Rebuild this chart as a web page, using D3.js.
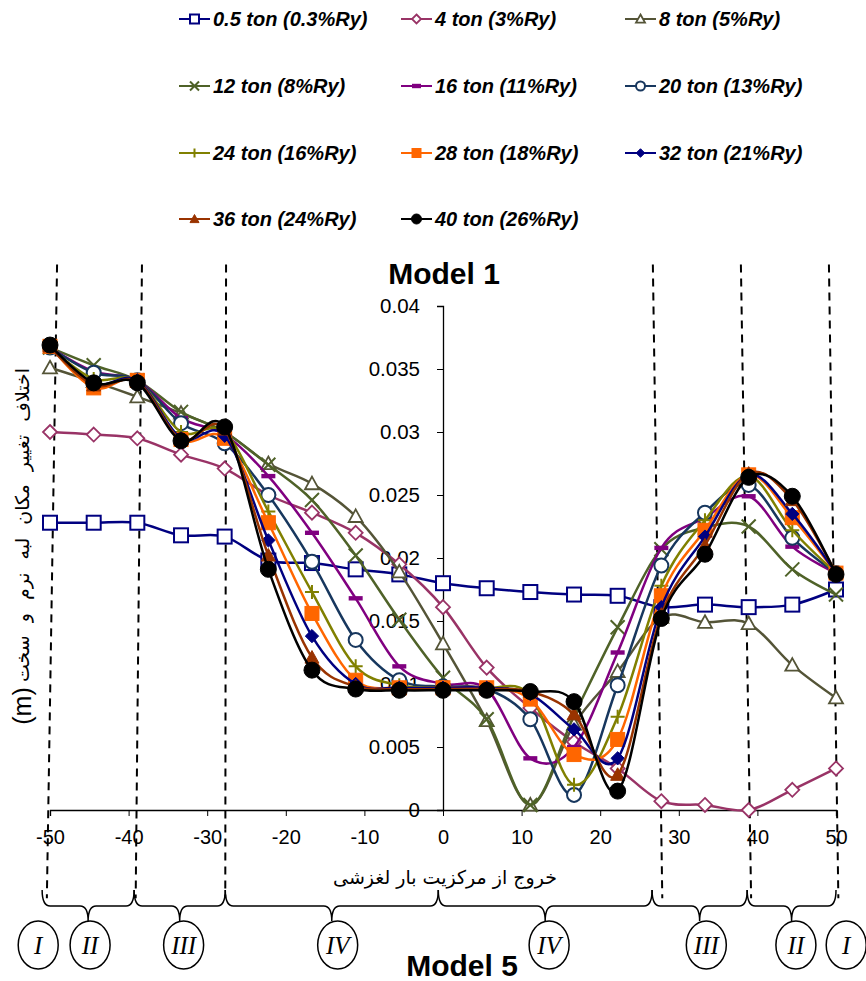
<!DOCTYPE html>
<html>
<head>
<meta charset="utf-8">
<script src="https://cdn.jsdelivr.net/npm/d3@7"></script>
<style>
  body { margin: 0; background: #fff; }
  svg text { font-family: Arial, "Liberation Sans", sans-serif; fill: #000; }
</style>
</head>
<body>
<div id="chart"></div>
<script>
// eccentricity positions (%)
const xValues = [-50, -44.44, -38.89, -33.33, -27.78, -22.22, -16.67, -11.11, -5.56, 0,
  5.56, 11.11, 16.67, 22.22, 27.78, 33.33, 38.89, 44.44, 50];

const seriesNames = ['0.5 ton (0.3%Ry)', '4 ton (3%Ry)', '8 ton (5%Ry)', '12 ton (8%Ry)',
  '16 ton (11%Ry)', '20 ton (13%Ry)', '24 ton (16%Ry)', '28 ton (18%Ry)',
  '32 ton (21%Ry)', '36 ton (24%Ry)', '40 ton (26%Ry)'];

const s05 = [0.0228, 0.0228, 0.0228, 0.0218, 0.0217, 0.0198, 0.0196, 0.0191, 0.0187, 0.0180,
  0.0176, 0.0173, 0.0171, 0.0170, 0.0161, 0.0163, 0.0161, 0.0163, 0.0175];
const s4 = [0.0300, 0.0298, 0.0295, 0.0282, 0.0271, 0.0250, 0.0236, 0.0220, 0.0195, 0.0161,
  0.0113, 0.0081, 0.0054, 0.0033, 0.0007, 0.0004, 0.0000, 0.0016, 0.0033];
const s8 = [0.0351, 0.0340, 0.0328, 0.0315, 0.0300, 0.0275, 0.0259, 0.0233, 0.0189, 0.0132,
  0.0071, 0.0004, 0.0068, 0.0110, 0.0153, 0.0149, 0.0148, 0.0115, 0.0089];
const s12 = [0.0367, 0.0353, 0.0341, 0.0316, 0.0300, 0.0274, 0.0246, 0.0202, 0.0151, 0.0105,
  0.0072, 0.0004, 0.0075, 0.0145, 0.0207, 0.0224, 0.0225, 0.0191, 0.0171];
const s16 = [0.0367, 0.0348, 0.0341, 0.0311, 0.0298, 0.0265, 0.0220, 0.0168, 0.0114, 0.0100,
  0.0096, 0.0041, 0.0050, 0.0125, 0.0208, 0.0232, 0.0249, 0.0209, 0.0188];
const s20 = [0.0367, 0.0347, 0.0341, 0.0307, 0.0291, 0.0250, 0.0197, 0.0135, 0.0103, 0.0098,
  0.0096, 0.0072, 0.0012, 0.0099, 0.0194, 0.0236, 0.0258, 0.0216, 0.0188];
const s24 = [0.0367, 0.0342, 0.0341, 0.0300, 0.0300, 0.0237, 0.0173, 0.0114, 0.0099, 0.0097,
  0.0097, 0.0091, 0.0020, 0.0074, 0.0178, 0.0230, 0.0265, 0.0222, 0.0188];
const s28 = [0.0368, 0.0335, 0.0341, 0.0294, 0.0295, 0.0228, 0.0156, 0.0103, 0.0097, 0.0097,
  0.0097, 0.0088, 0.0044, 0.0056, 0.0170, 0.0222, 0.0266, 0.0232, 0.0188];
const s32 = [0.0368, 0.0338, 0.0341, 0.0295, 0.0297, 0.0214, 0.0138, 0.0100, 0.0097, 0.0097,
  0.0097, 0.0092, 0.0064, 0.0041, 0.0161, 0.0217, 0.0266, 0.0235, 0.0188];
const s36 = [0.0368, 0.0337, 0.0340, 0.0294, 0.0302, 0.0202, 0.0121, 0.0098, 0.0096, 0.0096,
  0.0096, 0.0094, 0.0076, 0.0028, 0.0155, 0.0210, 0.0267, 0.0246, 0.0188];
const s40 = [0.0369, 0.0339, 0.0339, 0.0293, 0.0304, 0.0191, 0.0111, 0.0096, 0.0095, 0.0095,
  0.0095, 0.0094, 0.0086, 0.0015, 0.0152, 0.0203, 0.0264, 0.0249, 0.0187];

const seriesValues = [s05, s4, s8, s12, s16, s20, s24, s28, s32, s36, s40];
const seriesColors = ['#000080', '#993366', '#545437', '#4f6228', '#800080', '#17375e',
  '#808000', '#ff6600', '#000080', '#993300', '#000000'];
const seriesMarkers = ['square', 'diamond', 'triangle', 'cross', 'dash', 'circle',
  'plus', 'fsquare', 'fdiamond', 'ftriangle', 'fcircle'];

const xTicks = [-50, -40, -30, -20, -10, 0, 10, 20, 30, 40, 50];
const yTicks = [0, 0.005, 0.01, 0.015, 0.02, 0.025, 0.03, 0.035, 0.04];

// zone separators (dashed) : x at top / bottom of the line
const zoneLines = [[-49.1, -50.4], [-38.3, -39.1], [-27.6, -27.7], [26.7, 27.9], [37.9, 39.2], [49.1, 50.3]];
const braceEdges = [-51, -39.3, -27.7, -0.6, 26.6, 38.7, 50];
const zoneLabels = ['I', 'II', 'III', 'IV', 'IV', 'III', 'II', 'I'];
const zoneLabelX = [-51.5, -44.9, -33, -13.4, 13.5, 33.5, 44.9, 51.3];

const width = 866, height = 981;
const svg = d3.select('#chart').append('svg')
  .attr('width', width).attr('height', height);

const x = d3.scaleLinear().domain([-50, 50]).range([50, 836]);
const y = d3.scaleLinear().domain([0, 0.04]).range([810, 306]);

// axes
const xAxis = d3.axisBottom(x).tickValues(xTicks).tickSize(6).tickFormat(d3.format('d'));
const gx = svg.append('g').attr('transform', `translate(0,${y(0)})`).call(xAxis);
gx.select('.domain').attr('stroke', '#000').attr('stroke-width', 1.3);
gx.selectAll('.tick line').attr('stroke', '#000');
gx.selectAll('.tick text').attr('font-size', 20).attr('dy', '1.25em')
  .style('font-family', 'Arial, "Liberation Sans", sans-serif')
  .text(d => d < 0 ? '-' + Math.abs(d) : d);

const yAxis = d3.axisLeft(y).tickValues(yTicks).tickSize(6).tickFormat(d => d === 0 ? '0' : d3.format('')(+d.toFixed(3)));
const gy = svg.append('g').attr('transform', `translate(${x(0)},0)`).call(yAxis);
gy.select('.domain').attr('stroke', '#000').attr('stroke-width', 1.3);
gy.selectAll('.tick line').attr('stroke', '#000');
gy.selectAll('.tick text').attr('font-size', 20.5).attr('x', -23)
  .style('font-family', 'Arial, "Liberation Sans", sans-serif');

// dashed zone lines
svg.append('g').selectAll('line').data(zoneLines).join('line')
  .attr('x1', d => x(d[0])).attr('y1', y(0.0433))
  .attr('x2', d => x(d[1])).attr('y2', y(-0.007))
  .attr('stroke', '#000').attr('stroke-width', 2).attr('stroke-dasharray', '8,6');

// markers
function marker(g, type, color, s) {
  const h = s / 2;
  const open = ['square', 'diamond', 'triangle', 'circle'].includes(type);
  const fill = open ? '#fff' : color;
  if (type === 'square' || type === 'fsquare') {
    g.append('rect').attr('x', -h).attr('y', -h).attr('width', s).attr('height', s)
      .attr('fill', fill).attr('stroke', color).attr('stroke-width', open ? 2 : 1);
  } else if (type === 'diamond' || type === 'fdiamond') {
    const k = type === 'fdiamond' ? h * 0.95 : h;
    g.append('path').attr('d', `M0,${-k}L${k},0L0,${k}L${-k},0Z`)
      .attr('fill', fill).attr('stroke', color).attr('stroke-width', open ? 1.8 : 1);
  } else if (type === 'triangle' || type === 'ftriangle') {
    g.append('path').attr('d', `M0,${-h}L${h},${h * 0.8}L${-h},${h * 0.8}Z`)
      .attr('fill', fill).attr('stroke', color).attr('stroke-width', open ? 1.8 : 1);
  } else if (type === 'circle' || type === 'fcircle') {
    g.append('circle').attr('r', type === 'fcircle' ? h + 0.5 : h)
      .attr('fill', fill).attr('stroke', color).attr('stroke-width', open ? 2 : 1);
  } else if (type === 'cross') {
    g.append('path').attr('d', `M${-h},${-h}L${h},${h}M${-h},${h}L${h},${-h}`)
      .attr('stroke', color).attr('stroke-width', 2).attr('fill', 'none');
  } else if (type === 'plus') {
    g.append('path').attr('d', `M${-h},0L${h},0M0,${-h}L0,${h}`)
      .attr('stroke', color).attr('stroke-width', 2).attr('fill', 'none');
  } else if (type === 'dash') {
    g.append('rect').attr('x', -h).attr('y', -2.2).attr('width', s).attr('height', 4.4)
      .attr('fill', color);
  }
}

// series
const line = d3.line().x((d, i) => x(xValues[i])).y(d => y(d)).curve(d3.curveCardinal.tension(0));
seriesValues.forEach((vals, k) => {
  const g = svg.append('g').attr('class', 'series');
  g.append('path').datum(vals).attr('d', line)
    .attr('fill', 'none').attr('stroke', seriesColors[k]).attr('stroke-width', 2.5);
  vals.forEach((v, i) => {
    const m = g.append('g').attr('transform', `translate(${x(xValues[i])},${y(v)})`);
    marker(m, seriesMarkers[k], seriesColors[k], seriesMarkers[k] === 'fcircle' ? 15 : 14);
  });
});

// legend
const legCols = [179, 401, 625], legRows = [19, 86, 153, 219];
seriesNames.forEach((name, k) => {
  const lg = svg.append('g')
    .attr('transform', `translate(${legCols[k % 3]},${legRows[Math.floor(k / 3)]})`);
  lg.append('line').attr('x1', 0).attr('x2', 31).attr('stroke', seriesColors[k]).attr('stroke-width', 2);
  marker(lg.append('g').attr('transform', 'translate(15.5,0)'), seriesMarkers[k], seriesColors[k], 9);
  lg.append('text').attr('x', 34).attr('dy', '0.35em')
    .attr('font-size', 20).attr('font-weight', 'bold').attr('font-style', 'italic')
    .text(name);
});

// titles
svg.append('text').attr('x', 444).attr('y', 284).attr('text-anchor', 'middle')
  .attr('font-size', 30).attr('font-weight', 'bold').text('Model 1');
svg.append('text').attr('x', 462).attr('y', 976).attr('text-anchor', 'middle')
  .attr('font-size', 30).attr('font-weight', 'bold').text('Model 5');

svg.append('text').attr('x', 445).attr('y', 884).attr('text-anchor', 'middle')
  .attr('font-size', 19).style('font-family', '"DejaVu Serif", "DejaVu Sans", serif')
  .attr('direction', 'rtl').text('خروج از مرکزیت بار لغزشی');

// y title: arabic words + unit
svg.append('text').attr('transform', 'translate(29,525) rotate(-90)').attr('text-anchor', 'middle')
  .attr('font-size', 19).attr('word-spacing', 7).style('font-family', '"DejaVu Sans", sans-serif')
  .attr('direction', 'rtl').text('اختلاف تغییر مکان لبه نرم و سخت');
svg.append('text').attr('transform', 'translate(31,706) rotate(-90)').attr('text-anchor', 'middle')
  .attr('font-size', 25).text('(m)');

// braces below the axis
const bTop = y(0) + 80, bMid = y(0) + 96, bTip = y(0) + 111;
function brace(x0, x1) {
  const c = (x0 + x1) / 2, r = 8;
  return `M${x0},${bTop} Q${x0},${bMid} ${x0 + r},${bMid} L${c - r},${bMid} Q${c},${bMid} ${c},${bTip}` +
    ` Q${c},${bMid} ${c + r},${bMid} L${x1 - r},${bMid} Q${x1},${bMid} ${x1},${bTop}`;
}
svg.append('g').selectAll('path').data(d3.pairs(braceEdges)).join('path')
  .attr('d', d => brace(x(d[0]), x(d[1])))
  .attr('fill', 'none').attr('stroke', '#000').attr('stroke-width', 1.5);

const zl = svg.append('g').selectAll('g').data(zoneLabels).join('g')
  .attr('transform', (d, i) => `translate(${x(zoneLabelX[i])},${y(0) + 135})`);
zl.append('ellipse').attr('rx', 20).attr('ry', 24)
  .attr('fill', '#fff').attr('stroke', '#000').attr('stroke-width', 1.5);
zl.append('text').attr('text-anchor', 'middle').attr('dy', '0.35em')
  .attr('font-size', 25).attr('font-style', 'italic')
  .style('font-family', '"Liberation Serif", "Times New Roman", serif')
  .text(d => d);
</script>
</body>
</html>
